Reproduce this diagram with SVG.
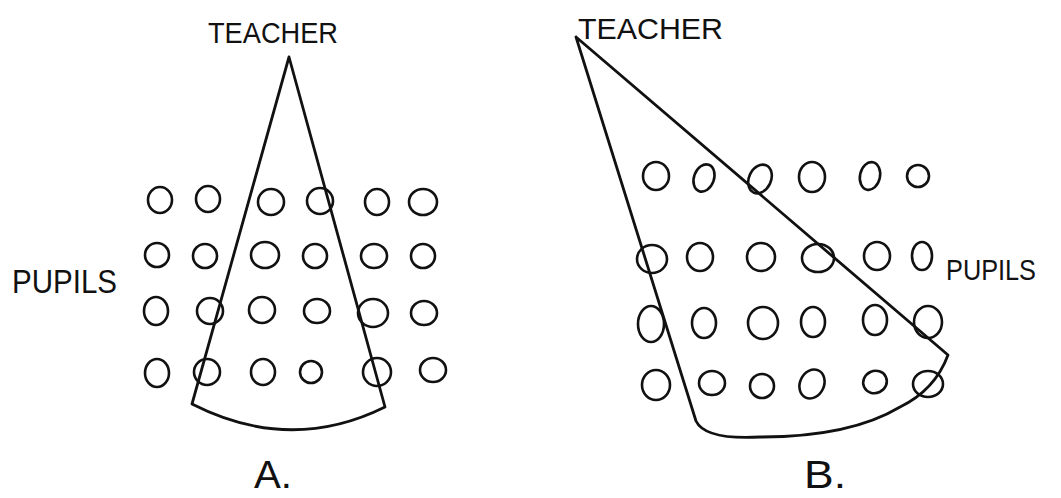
<svg xmlns="http://www.w3.org/2000/svg" width="1061" height="498" viewBox="0 0 1061 498">
<style>
.ln{fill:none;stroke:#111;stroke-width:2.8;stroke-linecap:round;stroke-linejoin:round}
.p{fill:none;stroke:#111;stroke-width:2.6}
.t{font-family:"Liberation Sans",Arial,sans-serif;fill:#111}
</style>
<rect width="1061" height="498" fill="#fff"/>
<g id="diagram-a">
<path class="ln" d="M289 57 L192 404 Q290 454 385 407 L289 57"/>
<g id="pupils-a">
<ellipse class="p" cx="160" cy="200" rx="12" ry="13"/>
<ellipse class="p" cx="208" cy="199" rx="12" ry="13"/>
<ellipse class="p" cx="271" cy="202" rx="13" ry="13"/>
<ellipse class="p" cx="320" cy="201" rx="13" ry="13"/>
<ellipse class="p" cx="377" cy="202" rx="12" ry="13"/>
<ellipse class="p" cx="423" cy="202" rx="14" ry="13"/>
<ellipse class="p" cx="157" cy="255" rx="12" ry="12"/>
<ellipse class="p" cx="205" cy="256" rx="12" ry="12"/>
<ellipse class="p" cx="265" cy="255" rx="14" ry="13"/>
<ellipse class="p" cx="315" cy="256" rx="12" ry="12"/>
<ellipse class="p" cx="374" cy="256" rx="13" ry="12"/>
<ellipse class="p" cx="423" cy="256" rx="12" ry="12"/>
<ellipse class="p" cx="156" cy="311" rx="12" ry="14"/>
<ellipse class="p" cx="210" cy="311" rx="13" ry="13"/>
<ellipse class="p" cx="262" cy="310" rx="13" ry="13"/>
<ellipse class="p" cx="317" cy="311" rx="13" ry="12"/>
<ellipse class="p" cx="373" cy="313" rx="15" ry="14"/>
<ellipse class="p" cx="424" cy="313" rx="13" ry="12"/>
<ellipse class="p" cx="157" cy="373" rx="12" ry="14"/>
<ellipse class="p" cx="207" cy="372" rx="13" ry="13"/>
<ellipse class="p" cx="263" cy="372" rx="12" ry="13"/>
<ellipse class="p" cx="311" cy="372" rx="11" ry="11"/>
<ellipse class="p" cx="377" cy="372" rx="14" ry="14"/>
<ellipse class="p" cx="433" cy="370" rx="13" ry="12"/>
</g>
<text class="t" x="208" y="43" style="font-size:30px" textLength="130" lengthAdjust="spacingAndGlyphs">TEACHER</text>
<text class="t" x="12" y="293" style="font-size:34px" textLength="105" lengthAdjust="spacingAndGlyphs">PUPILS</text>
<text class="t" x="254" y="488" style="font-size:38px" textLength="38" lengthAdjust="spacingAndGlyphs">A.</text>
</g>
<g id="diagram-b">
<path class="ln" d="M576 37 L696 421 Q705 440 760 437 Q850 437 900 407 Q935 390 948 355 L576 37"/>
<g id="pupils-b">
<ellipse class="p" cx="656" cy="176" rx="13" ry="14"/>
<ellipse class="p" cx="704" cy="178" rx="10" ry="14" transform="rotate(20 704 178)"/>
<ellipse class="p" cx="760" cy="179" rx="11" ry="15" transform="rotate(25 760 179)"/>
<ellipse class="p" cx="812" cy="177" rx="13" ry="15"/>
<ellipse class="p" cx="870" cy="176" rx="10" ry="14" transform="rotate(12 870 176)"/>
<ellipse class="p" cx="918" cy="176" rx="11" ry="11"/>
<ellipse class="p" cx="652" cy="259" rx="15" ry="14"/>
<ellipse class="p" cx="700" cy="257" rx="13" ry="14"/>
<ellipse class="p" cx="761" cy="257" rx="14" ry="14"/>
<ellipse class="p" cx="818" cy="258" rx="16" ry="14"/>
<ellipse class="p" cx="877" cy="256" rx="13" ry="14"/>
<ellipse class="p" cx="922" cy="256" rx="10" ry="14"/>
<ellipse class="p" cx="651" cy="324" rx="13" ry="18"/>
<ellipse class="p" cx="704" cy="323" rx="12" ry="15"/>
<ellipse class="p" cx="763" cy="323" rx="15" ry="16"/>
<ellipse class="p" cx="813" cy="322" rx="12" ry="15"/>
<ellipse class="p" cx="875" cy="320" rx="12" ry="15"/>
<ellipse class="p" cx="928" cy="322" rx="14" ry="16"/>
<ellipse class="p" cx="656" cy="385" rx="14" ry="15"/>
<ellipse class="p" cx="712" cy="383" rx="13" ry="12"/>
<ellipse class="p" cx="762" cy="386" rx="12" ry="12"/>
<ellipse class="p" cx="812" cy="384" rx="12" ry="15" transform="rotate(25 812 384)"/>
<ellipse class="p" cx="875" cy="382" rx="12" ry="11" transform="rotate(-25 875 382)"/>
<ellipse class="p" cx="928" cy="384" rx="15" ry="13"/>
</g>
<text class="t" x="578" y="39" style="font-size:30px" textLength="145" lengthAdjust="spacingAndGlyphs">TEACHER</text>
<text class="t" x="946" y="280" style="font-size:30px" textLength="90" lengthAdjust="spacingAndGlyphs">PUPILS</text>
<text class="t" x="804" y="488" style="font-size:38px" textLength="42" lengthAdjust="spacingAndGlyphs">B.</text>
</g>
</svg>
